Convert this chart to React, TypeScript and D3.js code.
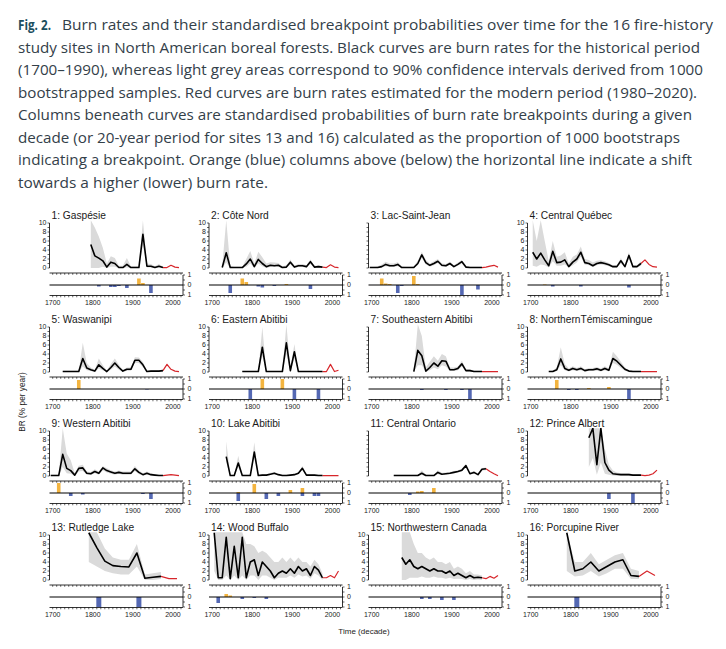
import React from "react";
import * as d3 from "d3";

const W = 726;
const H = 649;

// ---------------- caption ----------------
const captionLead = "Fig. 2.";
const captionLines = [
  "Burn rates and their standardised breakpoint probabilities over time for the 16 fire-history",
  "study sites in North American boreal forests. Black curves are burn rates for the historical period",
  "(1700–1990), whereas light grey areas correspond to 90% confidence intervals derived from 1000",
  "bootstrapped samples. Red curves are burn rates estimated for the modern period (1980–2020).",
  "Columns beneath curves are standardised probabilities of burn rate breakpoints during a given",
  "decade (or 20-year period for sites 13 and 16) calculated as the proportion of 1000 bootstraps",
  "indicating a breakpoint. Orange (blue) columns above (below) the horizontal line indicate a shift",
  "towards a higher (lower) burn rate.",
];

// ---------------- data ----------------
const siteNames = [
  "1: Gaspésie", "2: Côte Nord", "3: Lac-Saint-Jean", "4: Central Québec",
  "5: Waswanipi", "6: Eastern Abitibi", "7: Southeastern Abitibi", "8: NorthernTémiscamingue",
  "9: Western Abitibi", "10: Lake Abitibi", "11: Central Ontario", "12: Prince Albert",
  "13: Rutledge Lake", "14: Wood Buffalo", "15: Northwestern Canada", "16: Porcupine River",
];
const showYLabels = [true, true, false, true, true, true, false, true, true, true, false, true, true, true, true, true];

const blackStart = [1795, 1725, 1695, 1705, 1725, 1775, 1805, 1745, 1695, 1735, 1755, 1845, 1790, 1705, 1775, 1790];
const blackStep = [10, 10, 10, 10, 10, 10, 10, 10, 10, 10, 10, 10, 20, 10, 10, 20];

const blackValues: number[][] = [
  [5.2, 2.7, 2.2, 1.6, 0.2, 1.3, 1.0, 0.1, 0.1, 0.8, 0.1, 0.1, 0.1, 7.5, 0.4, 0.4, 0.1, 0.4, 0.1],
  [0.1, 3.4, 0.1, 0.1, 0.1, 0.1, 0.9, 2.0, 0.3, 1.9, 1.0, 0.3, 0.6, 0.5, 0.6, 0.1, 0.2, 1.3, 0.2, 0.5, 0.5, 0.3, 1.4, 0.2, 0.3, 0.2],
  [0.1, 0.1, 0.1, 0.3, 0.8, 0.5, 0.5, 0.8, 0.1, 0.1, 0.1, 0.1, 1.0, 2.9, 1.2, 0.6, 1.0, 1.5, 0.6, 0.5, 1.0, 0.3, 0.8, 1.4, 0.2, 0.1, 0.1, 0.1, 0.1],
  [3.5, 2.0, 3.3, 1.8, 0.5, 3.7, 1.2, 1.3, 1.8, 0.3, 1.3, 2.0, 3.5, 1.2, 1.0, 0.5, 1.0, 1.2, 1.0, 0.7, 0.3, 0.3, 1.6, 0.3, 2.8, 0.3, 0.3, 1.0],
  [0.1, 0.1, 0.1, 0.1, 0.1, 3.0, 0.9, 0.5, 0.2, 1.6, 0.8, 0.1, 1.0, 2.0, 1.0, 0.2, 0.6, 0.6, 2.6, 2.6, 1.6, 0.1, 0.2, 0.2, 0.2, 0.3],
  [0.1, 0.1, 0.1, 0.1, 0.1, 5.5, 0.1, 0.1, 0.1, 0.1, 0.1, 6.5, 0.3, 4.5, 0.1, 0.1, 0.1, 0.1, 0.1, 0.1, 0.1],
  [0.1, 4.8, 3.6, 0.2, 1.0, 2.0, 1.3, 2.5, 2.4, 0.5, 0.5, 0.8, 1.8, 0.3, 0.3, 0.1, 0.1, 0.1],
  [0.1, 0.1, 0.5, 2.9, 0.8, 0.4, 0.8, 0.5, 0.8, 0.3, 0.5, 0.5, 0.7, 0.4, 0.8, 0.4, 3.0, 2.4, 1.5, 0.6, 0.2, 0.1, 0.1, 0.1],
  [0.1, 0.1, 0.1, 4.8, 1.7, 1.2, 0.2, 1.7, 1.8, 0.6, 0.5, 1.0, 0.6, 1.8, 1.2, 0.9, 0.6, 0.8, 0.6, 0.6, 0.6, 1.6, 0.8, 0.3, 0.6, 0.3, 0.2, 0.1, 0.1],
  [4.3, 0.1, 0.1, 2.9, 0.1, 0.1, 0.1, 5.3, 0.1, 0.2, 0.2, 0.4, 0.6, 0.3, 0.1, 0.1, 0.2, 0.3, 0.6, 1.7, 0.2, 0.2, 0.2, 0.1, 0.1],
  [0.1, 0.1, 0.1, 0.1, 0.1, 0.1, 0.1, 0.6, 0.1, 0.1, 0.1, 0.8, 0.4, 0.5, 0.6, 0.8, 1.0, 1.3, 2.3, 0.5, 0.8, 0.3, 1.5, 1.6],
  [8.5, 10.6, 2.5, 10.6, 3.0, 1.3, 0.5, 0.4, 0.3, 0.3, 0.3, 0.2, 0.2, 0.2],
  [10.5, 7.2, 4.2, 3.2, 3.0, 2.9, 6.0, 0.4, 0.6, 0.8],
  [10.5, 0.5, 0.5, 9.5, 0.3, 7.5, 0.5, 9.5, 0.5, 4.0, 4.5, 1.0, 4.0, 3.0, 2.0, 0.5, 1.5, 2.0, 1.5, 2.5, 1.5, 3.0, 2.0, 2.5, 1.0, 3.0, 2.2, 0.5],
  [5.0, 3.5, 4.5, 3.0, 2.5, 3.0, 2.5, 2.0, 2.5, 2.0, 2.0, 1.5, 2.0, 1.0, 1.5, 1.0, 0.5, 1.0, 0.5, 0.6, 0.5],
  [10.5, 2.0, 2.5, 4.0, 2.0, 3.0, 4.0, 4.5, 1.0, 0.8],
];

const upperValues: number[][] = [
  [10.6, 9.0, 7.0, 4.5, 1.0, 2.6, 2.2, 0.5, 0.5, 2.2, 0.4, 0.4, 0.4, 10.6, 1.0, 0.9, 0.4, 0.9, 0.3],
  [0.5, 10.6, 0.5, 0.3, 0.3, 0.3, 2.0, 3.8, 1.0, 3.6, 2.4, 1.0, 1.3, 1.2, 1.1, 0.4, 0.6, 1.9, 0.5, 0.9, 0.9, 0.6, 1.9, 0.5, 0.6, 0.4],
  [0.3, 0.3, 0.4, 0.8, 1.4, 1.0, 1.0, 1.3, 0.4, 0.3, 0.3, 0.4, 1.6, 3.6, 1.8, 1.0, 1.5, 2.0, 1.0, 0.9, 1.4, 0.6, 1.2, 1.8, 0.5, 0.3, 0.3, 0.3, 0.3],
  [10.6, 6.0, 10.6, 6.0, 1.5, 6.0, 2.5, 2.8, 3.5, 1.0, 2.5, 3.0, 4.8, 2.0, 1.8, 1.2, 1.6, 1.7, 1.5, 1.1, 0.6, 0.6, 2.2, 0.6, 3.5, 0.6, 0.6, 1.5],
  [0.3, 0.3, 0.3, 0.3, 0.3, 6.5, 2.0, 1.0, 0.5, 3.0, 1.5, 0.3, 1.8, 3.0, 1.6, 0.4, 1.0, 1.0, 3.3, 3.2, 2.2, 0.3, 0.4, 0.4, 0.4, 0.5],
  [0.2, 0.2, 0.2, 0.2, 0.2, 10.0, 0.2, 0.2, 0.2, 0.2, 0.2, 10.6, 0.8, 6.2, 0.2, 0.2, 0.2, 0.2, 0.2, 0.2, 0.2],
  [0.3, 10.6, 8.0, 1.0, 2.3, 3.5, 2.5, 4.0, 3.5, 1.0, 1.0, 1.2, 2.5, 0.6, 0.6, 0.3, 0.3, 0.3],
  [0.3, 0.3, 1.0, 5.5, 1.8, 0.8, 1.3, 0.9, 1.3, 0.6, 0.9, 0.9, 1.1, 0.8, 1.3, 0.8, 4.5, 3.5, 2.3, 1.0, 0.4, 0.3, 0.3, 0.3],
  [0.3, 0.3, 0.3, 10.6, 5.0, 3.5, 0.6, 2.3, 2.5, 1.0, 0.9, 1.5, 1.0, 2.2, 1.7, 1.3, 1.0, 1.2, 1.0, 1.0, 1.0, 2.2, 1.2, 0.6, 1.0, 0.6, 0.4, 0.3, 0.3],
  [7.7, 0.3, 0.3, 4.5, 0.3, 0.3, 0.3, 7.5, 0.3, 0.4, 0.4, 0.7, 0.9, 0.5, 0.3, 0.3, 0.4, 0.5, 0.9, 2.2, 0.4, 0.4, 0.4, 0.3, 0.3],
  [0.3, 0.3, 0.3, 0.3, 0.3, 0.3, 0.3, 1.3, 0.3, 0.3, 0.3, 1.3, 0.7, 0.8, 0.9, 1.1, 1.3, 1.6, 2.6, 0.8, 1.1, 0.6, 1.8, 1.9],
  [10.6, 10.6, 10.6, 10.6, 6.0, 2.5, 1.2, 0.8, 0.6, 0.6, 0.6, 0.4, 0.4, 0.4],
  [10.6, 10.6, 7.0, 5.0, 4.5, 4.5, 8.0, 1.2, 1.5, 1.8],
  [10.6, 10.6, 10.6, 10.6, 10.6, 10.6, 10.6, 10.6, 8.0, 8.0, 7.5, 6.0, 6.5, 6.0, 5.0, 4.0, 4.0, 5.0, 4.0, 5.0, 4.0, 5.0, 4.0, 4.0, 3.0, 4.5, 3.5, 1.5],
  [10.6, 10.6, 10.6, 8.0, 6.0, 6.0, 5.0, 4.5, 5.0, 4.0, 4.0, 3.5, 4.0, 2.5, 3.0, 2.5, 1.5, 2.0, 1.2, 1.2, 1.0],
  [10.6, 4.0, 4.0, 6.0, 3.5, 4.5, 5.5, 6.0, 2.5, 2.0],
];

const lowerValues: number[][] = [
  [0, 0, 0, 0.3, 0, 0.3, 0.3, 0, 0, 0.1, 0, 0, 0, 5.0, 0.1, 0.1, 0, 0.1, 0],
  [0, 1.2, 0, 0, 0, 0, 0.3, 1.0, 0, 1.0, 0.4, 0, 0.2, 0.2, 0.2, 0, 0, 0.8, 0, 0.2, 0.2, 0.1, 0.9, 0, 0.1, 0],
  [0, 0, 0, 0.1, 0.4, 0.2, 0.2, 0.4, 0, 0, 0, 0, 0.6, 2.3, 0.8, 0.3, 0.6, 1.1, 0.3, 0.2, 0.7, 0.1, 0.5, 1.0, 0, 0, 0, 0, 0],
  [0.5, 0.3, 0.8, 0.6, 0.1, 1.5, 0.5, 0.5, 0.8, 0.1, 0.6, 1.2, 2.5, 0.7, 0.6, 0.2, 0.6, 0.8, 0.6, 0.4, 0.1, 0.1, 1.0, 0.1, 2.0, 0.1, 0.1, 0.5],
  [0, 0, 0, 0, 0, 1.2, 0.4, 0.2, 0, 0.8, 0.4, 0, 0.5, 1.2, 0.5, 0, 0.3, 0.3, 2.0, 2.0, 1.1, 0, 0, 0, 0, 0.1],
  [0, 0, 0, 0, 0, 3.5, 0, 0, 0, 0, 0, 4.0, 0, 3.0, 0, 0, 0, 0, 0, 0, 0],
  [0, 1.5, 1.5, 0, 0.4, 1.0, 0.6, 1.5, 1.2, 0.2, 0.2, 0.4, 1.2, 0.1, 0.1, 0, 0, 0],
  [0, 0, 0.2, 1.5, 0.4, 0.1, 0.4, 0.2, 0.4, 0.1, 0.2, 0.2, 0.3, 0.1, 0.4, 0.1, 2.0, 1.6, 0.9, 0.3, 0, 0, 0, 0],
  [0, 0, 0, 2.0, 0.6, 0.5, 0, 1.0, 1.1, 0.3, 0.2, 0.6, 0.3, 1.3, 0.8, 0.5, 0.3, 0.5, 0.3, 0.3, 0.3, 1.1, 0.4, 0.1, 0.3, 0.1, 0, 0, 0],
  [3.0, 0, 0, 2.0, 0, 0, 0, 4.5, 0, 0, 0, 0.2, 0.4, 0.1, 0, 0, 0, 0.1, 0.4, 1.3, 0, 0, 0, 0, 0],
  [0, 0, 0, 0, 0, 0, 0, 0.2, 0, 0, 0, 0.4, 0.2, 0.3, 0.4, 0.6, 0.8, 1.0, 2.0, 0.3, 0.6, 0.1, 1.2, 1.3],
  [2.0, 4.0, 0.3, 3.0, 0.5, 0.3, 0.1, 0, 0, 0, 0, 0, 0, 0],
  [4.0, 3.0, 2.0, 1.5, 1.2, 1.2, 3.0, 0, 0, 0.2],
  [2.0, 0, 0, 1.0, 0, 1.0, 0, 1.0, 0, 1.0, 1.0, 0, 1.0, 1.0, 0.5, 0, 0.5, 0.5, 0.5, 1.0, 0.5, 1.2, 0.8, 1.0, 0.3, 1.5, 1.0, 0],
  [0, 0, 0.5, 0.5, 0.5, 0.8, 0.5, 0.5, 0.8, 0.5, 0.5, 0.3, 0.5, 0.2, 0.3, 0.2, 0, 0.2, 0, 0.1, 0],
  [2.0, 0.8, 1.0, 2.0, 0.8, 1.5, 2.5, 2.5, 0.2, 0.2],
];

const redStart = [1985, 1985, 1985, 1985, 1985, 1985, 1985, 1985, 1985, 1985, 1995, 1985, 1990, 1985, 1985, 1990];
const redValues: number[][] = [
  [0.1, 0.6, 0.2, 0.1],
  [0.1, 0.7, 0.2, 0.1],
  [0.2, 0.4, 0.6, 0.2],
  [1.8, 0.8, 0.3, 0.2],
  [1.7, 0.6, 0.2, 0.1],
  [0.1, 1.7, 0.1, 0.4],
  [0.1, 0.1, 0.1, 0.1],
  [0.1, 0.1, 0.1, 0.1],
  [0.2, 0.3, 0.2, 0.1],
  [0.1, 0.1, 0.1, 0.1],
  [1.0, 0.5, 0.05],
  [0.1, 0.2, 0.5, 1.3],
  [0.3, 0.3],
  [0.5, 1.0, 0.5, 2.0],
  [0.3, 0.8, 0.4, 1.0],
  [2.0, 1.0],
];

// breakpoint probabilities: [decade mid-year, probability]
const barsUp: number[][][] = [
  [[1915, 0.65], [1925, 0.2]],
  [[1775, 0.65], [1785, 0.3], [1885, 0.1]],
  [[1725, 0.65], [1735, 0.15], [1745, 0.1], [1805, 0.9], [1815, 0.1]],
  [[1735, 0.05]],
  [[1765, 0.9]],
  [[1825, 1.0], [1875, 1.0]],
  [],
  [[1765, 0.9], [1845, 0.1], [1895, 0.2]],
  [[1715, 1.0]],
  [[1765, 0.1], [1805, 0.9], [1895, 0.3], [1925, 0.5]],
  [[1815, 0.15], [1825, 0.2], [1855, 0.5]],
  [],
  [],
  [[1735, 0.3], [1745, 0.15]],
  [],
  [],
];
const barsDown: number[][][] = [
  [[1815, 0.15], [1845, 0.2], [1855, 0.2], [1865, 0.1], [1885, 0.3], [1945, 0.8]],
  [[1745, 0.8], [1815, 0.15], [1825, 0.25], [1855, 0.1], [1945, 0.4]],
  [[1765, 0.8], [1775, 0.1], [1925, 1.0], [1965, 0.45]],
  [[1755, 0.15], [1825, 0.15], [1945, 0.25]],
  [[1935, 0.05]],
  [[1795, 1.0], [1905, 1.0], [1965, 1.0]],
  [[1825, 0.1], [1885, 0.1], [1925, 0.1], [1945, 1.0]],
  [[1795, 0.1], [1815, 0.1], [1945, 1.0]],
  [[1745, 0.3], [1775, 0.15], [1925, 0.1], [1945, 0.6]],
  [[1765, 0.8], [1835, 0.6], [1865, 0.3], [1925, 0.3], [1955, 0.3], [1965, 0.3]],
  [[1795, 0.2]],
  [[1895, 0.6], [1955, 1.0]],
  [[1815, 1.0], [1915, 1.0]],
  [[1715, 0.6], [1775, 0.2], [1805, 0.1], [1835, 0.2]],
  [[1825, 0.2], [1845, 0.2], [1875, 0.3], [1905, 0.3]],
  [[1815, 1.0]],
];

const xTickLabels = [1700, 1800, 1900, 2000];
const yTickLabels = [0, 2, 4, 6, 8, 10];
const probTicks = [1, 0, -1];

// ---------------- layout ----------------
const colX = [49.5, 209, 368.5, 527.5];
const row0 = 268;
const rowH = 104;
const plotW = 133.5;
const xDomain = [1692, 2025];

const ORANGE = "#f3b43f";
const BLUE = "#5468b3";
const GREY = "#dadada";
const RED = "#d7262b";
const AXIS_FONT = "'Liberation Sans', Arial, sans-serif";

function Panel({ i }: { i: number }) {
  const col = i % 4;
  const row = Math.floor(i / 4);
  const cx = colX[col];
  const z = row0 + rowH * row;
  const x = d3.scaleLinear().domain(xDomain).range([cx, cx + plotW]);
  const y = d3.scaleLinear().domain([0, 10]).range([z, z - 45]);
  const yb = d3.scaleLinear().domain([-1, 1]).range([z + 27, z + 7]);
  const step = blackStep[i];
  const years = blackValues[i].map((_, k) => blackStart[i] + k * step);
  const band = years.map((yr, k) => ({ yr, lo: lowerValues[i][k], hi: upperValues[i][k] }));
  const area = d3
    .area<{ yr: number; lo: number; hi: number }>()
    .x((d) => x(d.yr))
    .y0((d) => y(d.lo))
    .y1((d) => y(Math.min(d.hi, 10.7)));
  const line = d3
    .line<[number, number]>()
    .x((d) => x(d[0]))
    .y((d) => y(Math.min(d[1], 10.7)));
  const blackPts = years.map((yr, k) => [yr, blackValues[i][k]] as [number, number]);
  const lastBlack = blackPts[blackPts.length - 1];
  const redPts = [lastBlack, ...redValues[i].map((v, k) => [redStart[i] + k * step, v] as [number, number])];
  const barW = step === 10 ? 3.6 : 5;
  const xTicks = d3.range(1700, 2021, 10);
  const axTop = z + 5;
  const axBot = z + 27.5;
  const rx = cx + plotW;
  const clipId = `clip${i}`;
  return (
    <g>
      <defs>
        <clipPath id={clipId}>
          <rect x={cx} y={z - 48} width={plotW} height={49} />
        </clipPath>
      </defs>
      <text x={cx + 2} y={z - 49} fontSize={10.2} fontFamily={AXIS_FONT} fill="#1a1a1a">
        {siteNames[i]}
      </text>
      <g clipPath={`url(#${clipId})`}>
        <path d={area(band) || ""} fill={GREY} />
        <path d={line(redPts) || ""} fill="none" stroke={RED} strokeWidth={1.2} strokeLinejoin="round" />
        <path d={line(blackPts) || ""} fill="none" stroke="#000" strokeWidth={1.6} strokeLinejoin="round" />
      </g>
      {/* left y axis */}
      <line x1={cx} x2={cx} y1={y(0)} y2={y(10)} stroke="#000" strokeWidth={0.8} />
      {d3.range(0, 11, 1).map((t) => (
        <line key={t} x1={cx - 2} x2={cx} y1={y(t)} y2={y(t)} stroke="#000" strokeWidth={0.6} />
      ))}
      {showYLabels[i] &&
        yTickLabels.map((t) => (
          <text key={t} x={cx - 3} y={y(t) + 2.4} fontSize={7} textAnchor="end" fontFamily={AXIS_FONT} fill="#222">
            {t}
          </text>
        ))}
      {/* top plot x axis */}
      <line x1={cx} x2={rx} y1={axTop} y2={axTop} stroke="#000" strokeWidth={0.8} />
      {xTicks.map((t) => (
        <line key={t} x1={x(t)} x2={x(t)} y1={axTop} y2={axTop + 1.8} stroke="#000" strokeWidth={0.6} />
      ))}
      {/* bars */}
      {barsUp[i].map(([yr, p]) => (
        <rect key={"u" + yr} x={x(yr) - barW / 2} y={yb(p)} width={barW} height={yb(0) - yb(p)} fill={ORANGE} />
      ))}
      {barsDown[i].map(([yr, p]) => (
        <rect key={"d" + yr} x={x(yr) - barW / 2} y={yb(0)} width={barW} height={yb(-p) - yb(0)} fill={BLUE} />
      ))}
      <line x1={cx} x2={rx} y1={yb(0)} y2={yb(0)} stroke="#000" strokeWidth={1} />
      {/* right prob axis */}
      <line x1={rx} x2={rx} y1={yb(1)} y2={yb(-1)} stroke="#000" strokeWidth={0.8} />
      {[1, 0.5, 0, -0.5, -1].map((t) => (
        <line key={t} x1={rx} x2={rx + 2} y1={yb(t)} y2={yb(t)} stroke="#000" strokeWidth={0.6} />
      ))}
      {probTicks.map((t) => (
        <text key={t} x={rx + 4.5} y={yb(t) + 2.4} fontSize={7} fontFamily={AXIS_FONT} fill="#222">
          {Math.abs(t)}
        </text>
      ))}
      {/* bottom x axis */}
      <line x1={cx} x2={rx} y1={axBot} y2={axBot} stroke="#000" strokeWidth={0.8} />
      {xTicks.map((t) => (
        <line key={t} x1={x(t)} x2={x(t)} y1={axBot} y2={axBot + 1.8} stroke="#000" strokeWidth={0.6} />
      ))}
      {xTickLabels.map((t) => (
        <text key={t} x={x(t)} y={axBot + 9} fontSize={7} textAnchor="middle" fontFamily={AXIS_FONT} fill="#222">
          {t}
        </text>
      ))}
    </g>
  );
}

export default function App() {
  const capRight = [713, 700, 703, 697, 692, 680, 692, 268];
  return (
    <svg
      width={W}
      height={H}
      viewBox={`0 0 ${W} ${H}`}
      style={{ position: "absolute", left: 0, top: 0, background: "#fff" }}
    >
      <rect width={W} height={H} fill="#fff" />
      <g fontFamily="'Open Sans', 'Noto Sans', sans-serif" fontSize={14} fill="#334049">
        <text x={18} y={30} fontWeight={700} fill="#1b4e5e" textLength={33} lengthAdjust="spacingAndGlyphs">
          {captionLead}
        </text>
        {captionLines.map((t, k) => {
          const x0 = k === 0 ? 62 : 18;
          return (
            <text key={k} x={x0} y={30 + 22.5 * k} textLength={capRight[k] - x0} lengthAdjust="spacingAndGlyphs">
              {t}
            </text>
          );
        })}
      </g>
      {siteNames.map((_, i) => (
        <Panel key={i} i={i} />
      ))}
      <text
        transform="translate(25,402) rotate(-90)"
        fontSize={8.3}
        textAnchor="middle"
        fontFamily={AXIS_FONT}
        fill="#222"
      >
        BR (% per year)
      </text>
      <text x={364} y={634} fontSize={8} textAnchor="middle" fontFamily={AXIS_FONT} fill="#222">
        Time (decade)
      </text>
    </svg>
  );
}
